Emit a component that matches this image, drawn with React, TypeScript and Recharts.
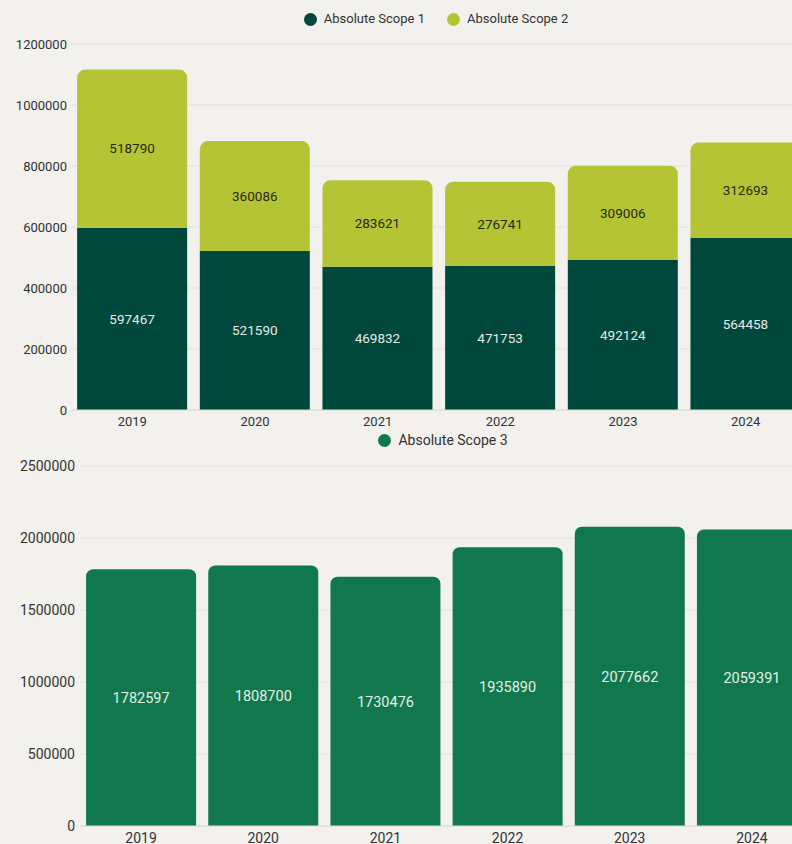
import React from 'react';
import { BarChart, Bar, XAxis, YAxis, CartesianGrid, Legend, LabelList } from 'recharts';

const years = ['2019', '2020', '2021', '2022', '2023', '2024'];
const scope1 = [597467, 521590, 469832, 471753, 492124, 564458];
const scope2 = [518790, 360086, 283621, 276741, 309006, 312693];
const scope3 = [1782597, 1808700, 1730476, 1935890, 2077662, 2059391];
const topTicks = [0, 200000, 400000, 600000, 800000, 1000000, 1200000];
const bottomTicks = [0, 500000, 1000000, 1500000, 2000000, 2500000];

const COLOR_S1 = '#00483b';
const COLOR_S2 = '#b5c434';
const COLOR_S3 = '#11784d';
const BG = '#f2f1ee';
const TEXT = '#333333';

const topData = years.map((year, i) => ({ year, s1: scope1[i], s2: scope2[i] }));
const bottomData = years.map((year, i) => ({ year, s3: scope3[i] }));

interface LegendItem {
  label: string;
  color: string;
}

const makeLegend = (items: LegendItem[], height: number, lineHeight: number, fontSize: number) => () => (
  <div
    style={{
      height,
      display: 'flex',
      justifyContent: 'center',
      alignItems: 'flex-start',
      gap: 22,
      lineHeight: `${lineHeight}px`,
      fontSize,
      color: TEXT,
    }}
  >
    {items.map((it) => (
      <div key={it.label} style={{ display: 'flex', alignItems: 'center', height: lineHeight }}>
        <span
          style={{
            display: 'inline-block',
            width: 13,
            height: 13,
            borderRadius: '50%',
            background: it.color,
            marginRight: 7,
          }}
        />
        <span>{it.label}</span>
      </div>
    ))}
  </div>
);

const App: React.FC = () => {
  return (
    <div
      style={{
        position: 'absolute',
        left: 0,
        top: 0,
        width: 792,
        height: 844,
        overflow: 'hidden',
        background: BG,
        fontFamily: 'Roboto, sans-serif',
      }}
    >
      <BarChart
        width={872}
        height={432}
        data={topData}
        margin={{ top: 5, right: 65, bottom: 0, left: 0 }}
        barCategoryGap="5%"
      >
        <CartesianGrid vertical={false} stroke="#e2e1dc" />
        <Legend
          verticalAlign="top"
          wrapperStyle={{ top: 5, left: 0, width: 872 }}
          content={makeLegend(
            [
              { label: 'Absolute Scope 1', color: COLOR_S1 },
              { label: 'Absolute Scope 2', color: COLOR_S2 },
            ],
            39,
            28,
            13
          )}
        />
        <XAxis
          dataKey="year"
          height={22}
          tickLine={false}
          tickSize={4}
          tickMargin={3}
          axisLine={{ stroke: '#dcdbd6' }}
          tick={{ fill: TEXT, fontSize: 13 }}
        />
        <YAxis
          width={71}
          domain={[0, 1200000]}
          ticks={topTicks}
          axisLine={false}
          tickLine={false}
          tickSize={4}
          tickMargin={0}
          tick={{ fill: TEXT, fontSize: 13 }}
        />
        <Bar dataKey="s1" name="Absolute Scope 1" stackId="a" fill={COLOR_S1} isAnimationActive={false}>
          <LabelList dataKey="s1" position="center" fill="#e4ebe6" fontSize={13.5} />
        </Bar>
        <Bar
          dataKey="s2"
          name="Absolute Scope 2"
          stackId="a"
          fill={COLOR_S2}
          radius={[8, 8, 0, 0]}
          isAnimationActive={false}
        >
          <LabelList dataKey="s2" position="center" fill="#1f2a10" fontSize={13.5} />
        </Bar>
      </BarChart>
      <BarChart
        width={886}
        height={416}
        data={bottomData}
        margin={{ top: 0, right: 73, bottom: 0, left: 0 }}
        barCategoryGap="5%"
      >
        <CartesianGrid vertical={false} stroke="#e2e1dc" />
        <Legend
          verticalAlign="top"
          wrapperStyle={{ top: 0, left: 0, width: 886 }}
          content={makeLegend([{ label: 'Absolute Scope 3', color: COLOR_S3 }], 34, 16, 14)}
        />
        <XAxis
          dataKey="year"
          height={22}
          tickLine={false}
          tickSize={4}
          tickMargin={3}
          axisLine={{ stroke: '#dcdbd6' }}
          tick={{ fill: TEXT, fontSize: 14 }}
        />
        <YAxis
          width={80}
          domain={[0, 2500000]}
          ticks={bottomTicks}
          axisLine={false}
          tickLine={false}
          tickSize={5}
          tickMargin={0}
          tick={{ fill: TEXT, fontSize: 14 }}
        />
        <Bar dataKey="s3" name="Absolute Scope 3" fill={COLOR_S3} radius={[7, 7, 0, 0]} isAnimationActive={false}>
          <LabelList dataKey="s3" position="center" fill="#e3efe8" fontSize={14.5} />
        </Bar>
      </BarChart>
    </div>
  );
};

export default App;
